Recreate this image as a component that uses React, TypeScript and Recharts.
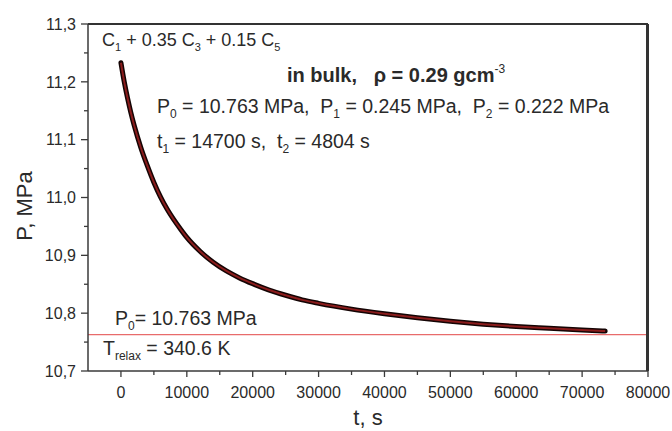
import React from "react";
import { LineChart, Line, XAxis, YAxis, ReferenceLine } from "recharts";

// time, s
const tValues = [0, 500, 1000, 1500, 2000, 3000, 4000, 5000, 6000, 7000, 8000, 9000, 10000, 12000, 14000, 16000, 18000, 20000, 22500, 25000, 27500, 30000, 35000, 40000, 45000, 50000, 55000, 60000, 65000, 70000, 73500];
// pressure, MPa
const pValues = [11.233, 11.2, 11.172, 11.147, 11.125, 11.087, 11.055, 11.026, 11.001, 10.98, 10.962, 10.946, 10.931, 10.907, 10.888, 10.873, 10.861, 10.851, 10.84, 10.831, 10.823, 10.817, 10.807, 10.799, 10.792, 10.786, 10.781, 10.777, 10.774, 10.771, 10.769];
const p0Level = 10.763;

const xTicks = [0, 5000, 10000, 15000, 20000, 25000, 30000, 35000, 40000, 45000, 50000, 55000, 60000, 65000, 70000, 75000, 80000];
const yTicks = [10.7, 10.75, 10.8, 10.85, 10.9, 10.95, 11.0, 11.05, 11.1, 11.15, 11.2, 11.25, 11.3];
const xDomain = [-5000, 80000];
const yDomain = [10.7, 11.3];

const data = tValues.map((t, i) => ({ t, p: pValues[i] }));

// layout
const W = 672;
const H = 431;
const M = { top: 24, right: 24, bottom: 0, left: 8 };
const Y_AXIS_W = 80;
const X_AXIS_H = 60;
const PLOT_L = M.left + Y_AXIS_W;
const PLOT_T = M.top;
const PLOT_R = W - M.right;
const PLOT_B = H - M.bottom - X_AXIS_H;

const FONT = "'Liberation Sans', Arial, sans-serif";
const AX = "#3a3a3a";
const TXT = "#2a2a2a";

const XTick = (props: any) => {
  const { x, y, payload } = props;
  const v = payload.value;
  const major = v % 10000 === 0;
  return (
    <g>
      <line x1={x} x2={x} y1={y} y2={y + (major ? 6 : 4)} stroke={AX} strokeWidth={1.3} />
      {major && (
        <text x={x} y={y + 27} textAnchor="middle" fontSize={16} fontFamily={FONT} fill={TXT}>
          {v}
        </text>
      )}
    </g>
  );
};

const YTick = (props: any) => {
  const { x, y, payload } = props;
  const v = payload.value as number;
  const major = Math.round(v * 100) % 10 === 0;
  return (
    <g>
      <line x1={x - (major ? 7 : 4)} x2={x} y1={y} y2={y} stroke={AX} strokeWidth={1.3} />
      {major && (
        <text x={x - 12} y={y} dy="0.36em" textAnchor="end" fontSize={16} fontFamily={FONT} fill={TXT}>
          {v.toFixed(1).replace(".", ",")}
        </text>
      )}
    </g>
  );
};

type Part = { s: string; sub?: boolean; sup?: boolean; normal?: boolean };

const Rich = ({ x, y, size, parts, bold }: { x: number; y: number; size: number; parts: Part[]; bold?: boolean }) => {
  const small = Math.round(size * 0.62);
  const off = Math.round(size * 0.28);
  let cur = 0;
  return (
    <text x={x} y={y} fontSize={size} fontWeight={bold ? "bold" : "normal"} style={{ whiteSpace: "pre" }}>
      {parts.map((p, i) => {
        const target = p.sub ? off : p.sup ? -Math.round(size * 0.45) : 0;
        const dy = target - cur;
        cur = target;
        return (
          <tspan
            key={i}
            dy={dy}
            fontSize={p.sub || p.sup ? small : size}
            fontWeight={p.normal ? "normal" : undefined}
          >
            {p.s}
          </tspan>
        );
      })}
    </text>
  );
};

export default function App() {
  return (
    <div style={{ position: "absolute", left: 0, top: 0, width: W, height: H }}>
      <LineChart width={W} height={H} data={data} margin={M}>
        <XAxis
          dataKey="t"
          type="number"
          domain={xDomain}
          ticks={xTicks}
          interval={0}
          allowDataOverflow
          height={X_AXIS_H}
          tickSize={0}
          tickMargin={0}
          tickLine={false}
          axisLine={{ stroke: AX, strokeWidth: 1.5 }}
          tick={<XTick />}
        />
        <YAxis
          type="number"
          domain={yDomain}
          ticks={yTicks}
          interval={0}
          allowDataOverflow
          width={Y_AXIS_W}
          tickSize={0}
          tickMargin={0}
          tickLine={false}
          axisLine={{ stroke: AX, strokeWidth: 1.5 }}
          tick={<YTick />}
        />
        <ReferenceLine y={p0Level} stroke="#e86b6b" strokeWidth={1.2} />
        <Line
          dataKey="p"
          type="monotone"
          stroke="#140404"
          strokeWidth={5}
          strokeLinecap="round"
          dot={false}
          isAnimationActive={false}
        />
        <Line
          dataKey="p"
          type="monotone"
          stroke="#8a1c1c"
          strokeWidth={2}
          dot={false}
          isAnimationActive={false}
        />
      </LineChart>
      <svg
        width={W}
        height={H}
        style={{ position: "absolute", left: 0, top: 0, pointerEvents: "none" }}
        fontFamily={FONT}
        fill={TXT}
      >
        <Rich
          x={102}
          y={46}
          size={18}
          parts={[{ s: "C" }, { s: "1", sub: true }, { s: " + 0.35 C" }, { s: "3", sub: true }, { s: " + 0.15 C" }, { s: "5", sub: true }]}
        />
        <Rich
          x={287}
          y={82}
          size={20}
          bold
          parts={[{ s: "in bulk,   ρ = 0.29 gcm" }, { s: "-3", sup: true, normal: true }]}
        />
        <Rich
          x={157}
          y={113}
          size={19.5}
          parts={[
            { s: "P" }, { s: "0", sub: true }, { s: " = 10.763 MPa,  P" }, { s: "1", sub: true },
            { s: " = 0.245 MPa,  P" }, { s: "2", sub: true }, { s: " = 0.222 MPa" },
          ]}
        />
        <Rich
          x={157}
          y={148}
          size={19.5}
          parts={[{ s: "t" }, { s: "1", sub: true }, { s: " = 14700 s,  t" }, { s: "2", sub: true }, { s: " = 4804 s" }]}
        />
        <Rich x={115} y={325} size={19.5} parts={[{ s: "P" }, { s: "0", sub: true }, { s: "= 10.763 MPa" }]} />
        <Rich x={103} y={355} size={19.5} parts={[{ s: "T" }, { s: "relax", sub: true }, { s: " = 340.6 K" }]} />
        <text x={0} y={0} fontSize={22} textAnchor="middle" transform="translate(32,206) rotate(-90)">
          P, MPa
        </text>
        <text x={368} y={425} fontSize={22} textAnchor="middle">
          t, s
        </text>
        <line x1={PLOT_L} y1={PLOT_T} x2={PLOT_R} y2={PLOT_T} stroke="#333333" strokeWidth={2} />
        <line x1={PLOT_R} y1={PLOT_T} x2={PLOT_R} y2={PLOT_B} stroke="#333333" strokeWidth={2} />
      </svg>
      <div
        style={{
          position: "absolute",
          left: PLOT_L,
          top: PLOT_T - 1,
          width: PLOT_R - PLOT_L,
          height: PLOT_B - PLOT_T + 1,
          borderTop: "2px solid #333",
          borderRight: "2px solid #333",
          boxSizing: "border-box",
          pointerEvents: "none",
        }}
      />
    </div>
  );
}
